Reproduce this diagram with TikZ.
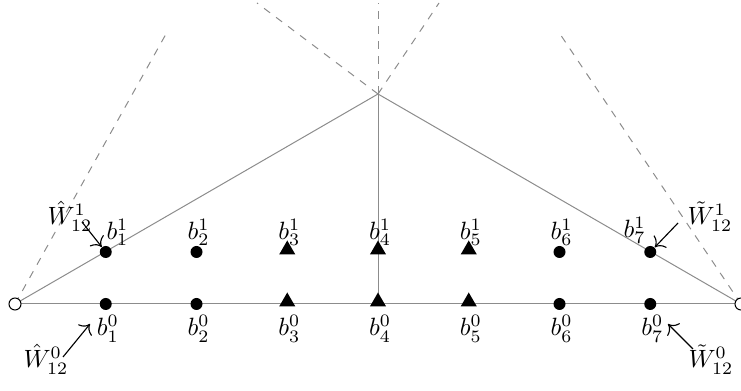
\documentclass[tikz,border=0pt]{standalone}
\usetikzlibrary{shapes.geometric,arrows.meta}
\begin{document}
\begin{tikzpicture}[x=0.4pt,y=-0.4pt,
  edge/.style={draw=gray!90, line width=0.4pt},
  guide/.style={draw=gray!90, line width=0.4pt, dashed},
  dotmark/.style={circle, fill=black, inner sep=0pt, minimum size=4.8pt},
  trimark/.style={regular polygon, regular polygon sides=3, fill=black, inner sep=0pt, minimum size=7.4pt, yshift=0.9pt},
  opencirc/.style={circle, draw=black, fill=white, line width=0.4pt, inner sep=0pt, minimum size=4.8pt},
  lbl/.style={inner sep=0pt},
  ptr/.style={-{To[scale=1.3]}, line width=0.45pt, black}]
\useasboundingbox (0,0) rectangle (741,391);

% corner points of the two triangles
\coordinate (cL) at (15,304);
\coordinate (cR) at (741,304);
\coordinate (cA) at (378,94);

% far ends of the dashed guide lines
\coordinate (gL) at (166,34);
\coordinate (gR) at (560,34);
\coordinate (g1) at (257,3);
\coordinate (g2) at (378,3);
\coordinate (g3) at (439,3);

% solid edges
\draw[edge] (cL) -- (cA) -- (cR);
\draw[edge] (cL) -- (cR);
\draw[edge] (cA) -- (378,304);

% dashed guides
\draw[guide] (cL) -- (gL);
\draw[guide] (cR) -- (gR);
\draw[guide] (cA) -- (g1);
\draw[guide] (cA) -- (g2);
\draw[guide] (cA) -- (g3);

% end points
\node[opencirc] (L) at (cL) {};
\node[opencirc] (R) at (cR) {};

% markers on both rows
\foreach \k/\s in {1/dotmark,2/dotmark,3/trimark,4/trimark,5/trimark,6/dotmark,7/dotmark}{
  \pgfmathsetmacro\xx{15+90.75*\k}
  \node[\s] (t\k) at (\xx,252) {};
  \node[\s] (d\k) at (\xx,304) {};
}

% top row labels
\node[lbl, anchor=south west] (lt1) at (106,246) {$b^1_1$};
\foreach \k in {2,...,6}{
  \pgfmathsetmacro\xx{17+90.75*\k}
  \node[lbl, anchor=south] (lt\k) at (\xx,246) {$b^1_{\k}$};
}
\node[lbl, anchor=south east] (lt7) at (646,244) {$b^1_7$};

% bottom row labels
\foreach \k in {1,...,7}{
  \pgfmathsetmacro\xx{17+90.75*\k}
  \node[lbl, anchor=north] (ld\k) at (\xx,315) {$b^0_{\k}$};
}

% weight labels
\node[lbl, anchor=base west] (wh1) at (47,225) {$\hat{W}^1_{12}$};
\node[lbl, anchor=base west] (wh0) at (23,368) {$\hat{W}^0_{12}$};
\node[lbl, anchor=base west] (wt1) at (687,225) {$\tilde{W}^1_{12}$};
\node[lbl, anchor=base west] (wt0) at (688,368) {$\tilde{W}^0_{12}$};

% pointer arrows
\coordinate (ph1) at (82,222);
\coordinate (ph0s) at (63,357);
\coordinate (ph0e) at (90,324);
\coordinate (pt1) at (678,223);
\coordinate (pt0s) at (693,349);
\coordinate (pt0e) at (668,324);
\draw[ptr] (ph1) -- (t1);
\draw[ptr] (ph0s) -- (ph0e);
\draw[ptr] (pt1) -- (t7);
\draw[ptr] (pt0s) -- (pt0e);
\end{tikzpicture}
\end{document}
